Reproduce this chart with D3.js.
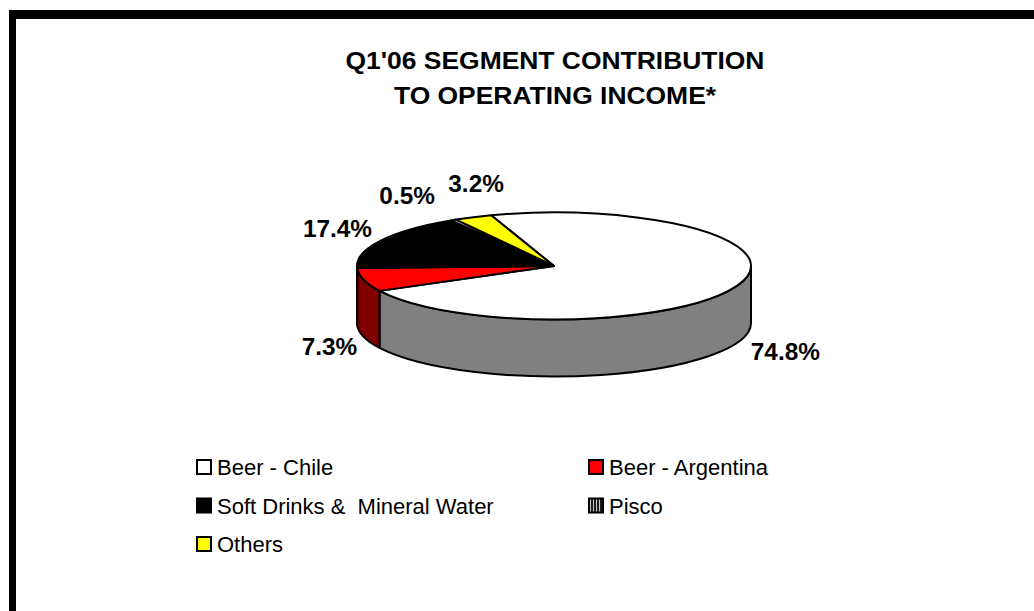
<!DOCTYPE html>
<html>
<head>
<meta charset="utf-8">
<script src="https://cdn.jsdelivr.net/npm/d3@7"></script>
<style>
  html, body { margin: 0; padding: 0; background: #fff; }
  svg { display: block; font-family: "Liberation Sans", Arial, Helvetica, sans-serif; }
</style>
</head>
<body>
<svg id="chart" width="1034" height="611"></svg>
<script>
// Segment shares of Q1'06 operating income (percent)
const categories = ["Beer - Chile", "Beer - Argentina", "Soft Drinks &  Mineral Water", "Pisco", "Others"];
const shares = [74.8, 7.3, 17.4, 0.5, 3.2];
const shareLabels = ["74.8%", "7.3%", "17.4%", "0.5%", "3.2%"];
const titleLines = ["Q1'06 SEGMENT CONTRIBUTION", "TO OPERATING INCOME*"];

// Fill of each slice's top face and of its outer wall
const topFill = ["#FFFFFF", "#FF0000", "#000000", "url(#pisco)", "#FFFF00"];
const wallFill = ["#808080", "#800000", "#000000", "url(#pisco)", "#808000"];

const svg = d3.select("#chart");
const W = 1034, H = 611;

// Pattern for the Pisco segment: fine vertical stripes
const defs = svg.append("defs");
const pat = defs.append("pattern").attr("id", "pisco")
  .attr("patternUnits", "userSpaceOnUse").attr("width", 3).attr("height", 3);
pat.append("rect").attr("width", 3).attr("height", 3).attr("fill", "#1a1a1a");
pat.append("rect").attr("x", 2).attr("width", 1).attr("height", 3).attr("fill", "#c8c8c8");

// Frame: heavy rule across the top and down the left side
svg.append("rect").attr("x", 9).attr("y", 10).attr("width", W - 9).attr("height", 9).attr("fill", "#000");
svg.append("rect").attr("x", 9).attr("y", 10).attr("width", 7).attr("height", H - 10).attr("fill", "#000");

// Title
const title = svg.append("g").attr("font-weight", "bold").attr("font-size", 23).attr("text-anchor", "middle");
titleLines.forEach((t, i) => {
  title.append("text")
    .attr("transform", `translate(555,${69 + i * 35}) scale(1.15,1)`)
    .text(t);
});

// 3-D pie geometry
const cx = 554, cy = 266, rx = 197, ry = 53.5, depth = 57;
const start = -0.325;
const pie = d3.pie().sort(null).value(d => d).startAngle(start).endAngle(start + 2 * Math.PI);
const arcs = pie(shares);

const pt = (t, dy = 0) => [cx + rx * Math.sin(t), cy - ry * Math.cos(t) + dy];

// Outer wall of a slice, restricted to the front half of the ellipse
function wallPath(a, b) {
  const lo = Math.max(a, Math.PI / 2), hi = Math.min(b, 3 * Math.PI / 2);
  if (hi <= lo) return null;
  const p0 = pt(lo), p1 = pt(hi), q1 = pt(hi, depth), q0 = pt(lo, depth);
  return `M${p0}A${rx},${ry} 0 0 1 ${p1}L${q1}A${rx},${ry} 0 0 0 ${q0}Z`;
}

const walls = svg.append("g");
arcs.forEach((d, i) => {
  const p = wallPath(d.startAngle, d.endAngle);
  if (p) walls.append("path").attr("d", p).attr("fill", wallFill[i])
    .attr("stroke", "#000").attr("stroke-width", 2).attr("stroke-linejoin", "round");
});

// Top faces: unit-circle arcs stretched onto the ellipse
const arcGen = d3.arc().innerRadius(0).outerRadius(1);
svg.append("g")
  .attr("transform", `translate(${cx},${cy}) scale(${rx},${ry})`)
  .selectAll("path").data(arcs).join("path")
  .attr("d", arcGen)
  .attr("fill", (d, i) => topFill[i])
  .attr("stroke", "#000").attr("stroke-width", 2)
  .attr("stroke-linejoin", "round")
  .attr("vector-effect", "non-scaling-stroke");

// Percentage labels placed around the pie at each slice's mid-angle
const labelRx = rx + 15, labelRy = ry + 25;
const labelShift = {
  "Beer - Chile": [0, 0],
  "Beer - Argentina": [8, 4],
  "Soft Drinks &  Mineral Water": [5, 0],
  "Pisco": [-11, -2],
  "Others": [9, -10]
};
const labels = svg.append("g").attr("font-weight", "bold").attr("font-size", 23);
arcs.forEach((d, i) => {
  const m = (d.startAngle + d.endAngle) / 2;
  const s = Math.sin(m), c = Math.cos(m);
  const sh = labelShift[categories[i]];
  const x = cx + labelRx * s + sh[0];
  const y = cy - labelRy * c + (c < 0 ? depth : 0) + sh[1] + 8;
  const anchor = Math.abs(s) < 0.45 ? "middle" : (s > 0 ? "start" : "end");
  labels.append("text")
    .attr("text-anchor", anchor)
    .attr("transform", `translate(${x},${y}) scale(1.06,1)`)
    .text(shareLabels[i]);
});

// Legend: two columns, filled row by row
const legend = svg.append("g").attr("font-size", 22);
const colX = [196, 588], rowY0 = 475, rowStep = 38.5, box = 16;
categories.forEach((name, i) => {
  const col = i % 2, row = Math.floor(i / 2);
  const x = colX[col], y = rowY0 + row * rowStep;
  legend.append("rect")
    .attr("x", x + 1).attr("y", y - box + 1)
    .attr("width", box - 2).attr("height", box - 2)
    .attr("fill", topFill[i]).attr("stroke", "#000").attr("stroke-width", 2);
  legend.append("text")
    .attr("x", x + 21).attr("y", y)
    .style("white-space", "pre")
    .text(name);
});
</script>
</body>
</html>
